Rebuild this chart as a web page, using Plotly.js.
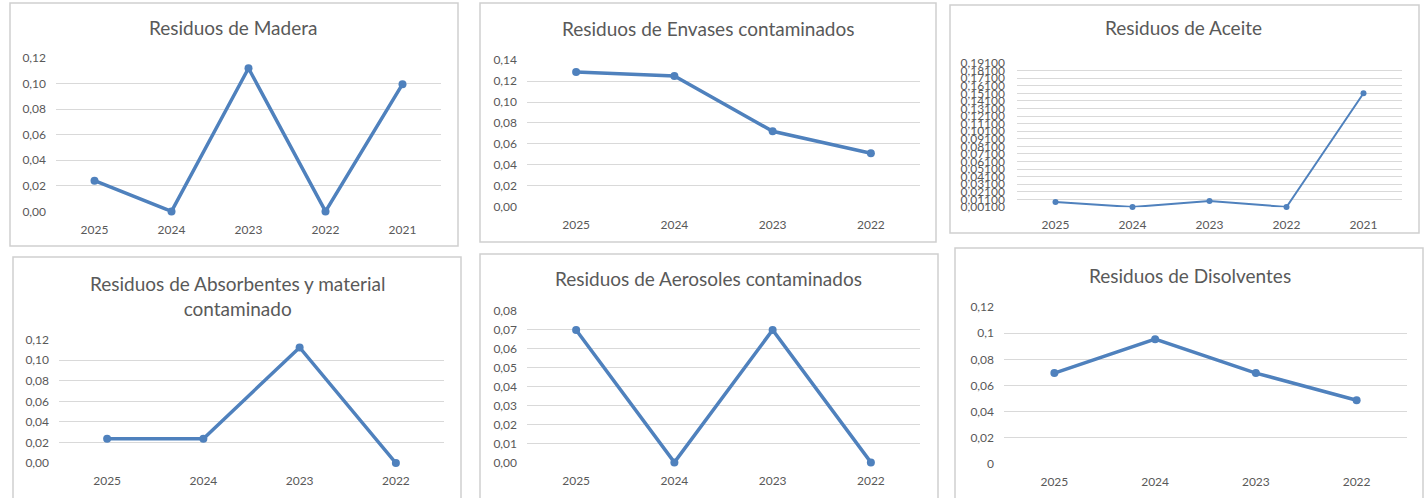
<!DOCTYPE html>
<html>
<head>
<meta charset="utf-8">
<script src="https://cdn.plot.ly/plotly-3.0.1.min.js"></script>
<style>
  html, body { margin: 0; padding: 0; background: #ffffff; }
  #chart { width: 1425px; height: 498px; }
</style>
</head>
<body>
<div id="chart"></div>
<script>
// ---------- DATA ----------
const titleMadera = "Residuos de Madera";
const yearsMadera = ["2025", "2024", "2023", "2022", "2021"];
const valuesMadera = [0.024, 0.0, 0.112, 0.0, 0.0995];
const ticksMadera = [0, 0.02, 0.04, 0.06, 0.08, 0.10, 0.12];
const tickTextMadera = ["0,00", "0,02", "0,04", "0,06", "0,08", "0,10", "0,12"];

const titleEnvases = "Residuos de Envases contaminados";
const yearsEnvases = ["2025", "2024", "2023", "2022"];
const valuesEnvases = [0.1288, 0.125, 0.072, 0.051];
const ticksEnvases = [0, 0.02, 0.04, 0.06, 0.08, 0.10, 0.12, 0.14];
const tickTextEnvases = ["0,00", "0,02", "0,04", "0,06", "0,08", "0,10", "0,12", "0,14"];

const titleAceite = "Residuos de Aceite";
const yearsAceite = ["2025", "2024", "2023", "2022", "2021"];
const valuesAceite = [0.0075, 0.001, 0.009, 0.001, 0.151];
const ticksAceite = [0.001, 0.011, 0.021, 0.031, 0.041, 0.051, 0.061, 0.071, 0.081, 0.091,
                     0.101, 0.111, 0.121, 0.131, 0.141, 0.151, 0.161, 0.171, 0.181, 0.191];
const tickTextAceite = ["0,00100", "0,01100", "0,02100", "0,03100", "0,04100", "0,05100", "0,06100",
                        "0,07100", "0,08100", "0,09100", "0,10100", "0,11100", "0,12100", "0,13100",
                        "0,14100", "0,15100", "0,16100", "0,17100", "0,18100", "0,19100"];

const titleAbsorbentes = "Residuos de Absorbentes y material<br>contaminado";
const yearsAbsorbentes = ["2025", "2024", "2023", "2022"];
const valuesAbsorbentes = [0.0235, 0.0237, 0.1123, 0.0];
const ticksAbsorbentes = [0, 0.02, 0.04, 0.06, 0.08, 0.10, 0.12];
const tickTextAbsorbentes = ["0,00", "0,02", "0,04", "0,06", "0,08", "0,10", "0,12"];

const titleAerosoles = "Residuos de Aerosoles contaminados";
const yearsAerosoles = ["2025", "2024", "2023", "2022"];
const valuesAerosoles = [0.07, 0.0, 0.07, 0.0];
const ticksAerosoles = [0, 0.01, 0.02, 0.03, 0.04, 0.05, 0.06, 0.07, 0.08];
const tickTextAerosoles = ["0,00", "0,01", "0,02", "0,03", "0,04", "0,05", "0,06", "0,07", "0,08"];

const titleDisolventes = "Residuos de Disolventes";
const yearsDisolventes = ["2025", "2024", "2023", "2022"];
const valuesDisolventes = [0.0695, 0.0954, 0.0695, 0.0487];
const ticksDisolventes = [0, 0.02, 0.04, 0.06, 0.08, 0.1, 0.12];
const tickTextDisolventes = ["0", "0,02", "0,04", "0,06", "0,08", "0,1", "0,12"];

// ---------- LAYOUT (pixel geometry) ----------
const W = 1425, H = 498;
const FONT = "Lato, 'Open Sans', sans-serif";
const TEXT = "#595959";
const GRID = "#d9d9d9";
const BLUE = "#4f81bd";

const panels = [
  { title: titleMadera, x: yearsMadera, y: valuesMadera, tv: ticksMadera, tt: tickTextMadera,
    box: [10, 3, 458, 246], plot: [56, 57.7, 441, 211.7], tpos: [233, 27], lw: 3.5, ms: 8, yfs: 12, ystand: 9 },
  { title: titleEnvases, x: yearsEnvases, y: valuesEnvases, tv: ticksEnvases, tt: tickTextEnvases,
    box: [480, 3, 936, 242], plot: [527, 60, 920, 206.7], tpos: [708, 28], lw: 3.5, ms: 8, yfs: 12, ystand: 9 },
  { title: titleAceite, x: yearsAceite, y: valuesAceite, tv: ticksAceite, tt: tickTextAceite,
    box: [950, 5, 1419, 233], plot: [1017, 62.7, 1402, 207.3], tpos: [1183, 27], lw: 2, ms: 6, yfs: 12, ystand: 11 },
  { title: titleAbsorbentes, x: yearsAbsorbentes, y: valuesAbsorbentes, tv: ticksAbsorbentes, tt: tickTextAbsorbentes,
    box: [13, 257, 461, 520], plot: [59, 339.3, 444, 463.3], tpos: [237, 295.5], lw: 3.5, ms: 8, yfs: 12, ystand: 9 },
  { title: titleAerosoles, x: yearsAerosoles, y: valuesAerosoles, tv: ticksAerosoles, tt: tickTextAerosoles,
    box: [480, 254, 938, 520], plot: [527, 310.7, 920, 462.7], tpos: [708, 278], lw: 3.5, ms: 8, yfs: 12, ystand: 9 },
  { title: titleDisolventes, x: yearsDisolventes, y: valuesDisolventes, tv: ticksDisolventes, tt: tickTextDisolventes,
    box: [955, 248, 1423, 520], plot: [1004, 306.7, 1407, 464.3], tpos: [1190, 275], lw: 3.5, ms: 8, yfs: 12, ystand: 9 }
];

const px = v => v / W;
const py = v => 1 - v / H;

const data = [];
const layout = {
  width: W, height: H,
  margin: { l: 0, r: 0, t: 0, b: 0 },
  paper_bgcolor: "#ffffff",
  plot_bgcolor: "rgba(0,0,0,0)",
  showlegend: false,
  font: { family: FONT, color: TEXT },
  shapes: [],
  annotations: []
};

panels.forEach((p, i) => {
  const n = i + 1;
  const xa = "xaxis" + (n === 1 ? "" : n);
  const ya = "yaxis" + (n === 1 ? "" : n);
  const xr = "x" + (n === 1 ? "" : n);
  const yr = "y" + (n === 1 ? "" : n);
  const lo = p.tv[0], hi = p.tv[p.tv.length - 1];
  const eps = (hi - lo) * 0.002;

  data.push({
    type: "scatter", mode: "lines+markers",
    x: p.x, y: p.y, xaxis: xr, yaxis: yr,
    line: { color: BLUE, width: p.lw },
    marker: { color: BLUE, size: p.ms, symbol: "circle" },
    cliponaxis: false, hoverinfo: "skip"
  });

  layout[xa] = {
    domain: [px(p.plot[0]), px(p.plot[2])],
    anchor: yr,
    type: "category",
    range: [-0.5, p.x.length - 0.5],
    showgrid: false, zeroline: false, showline: false,
    ticks: "", ticklabelstandoff: 9,
    tickfont: { family: FONT, size: 12, color: TEXT },
    fixedrange: true
  };
  layout[ya] = {
    domain: [py(p.plot[3]), py(p.plot[1])],
    anchor: xr,
    range: [lo - eps, hi + eps],
    tickmode: "array", tickvals: p.tv, ticktext: p.tt,
    showgrid: true, gridcolor: GRID, gridwidth: 1,
    zeroline: false, showline: false,
    ticks: "", ticklabelstandoff: p.ystand,
    tickfont: { family: FONT, size: p.yfs, color: TEXT },
    fixedrange: true
  };

  layout.shapes.push({
    type: "rect", xref: "paper", yref: "paper",
    x0: px(p.box[0]), x1: px(p.box[2]), y0: py(p.box[3]), y1: py(p.box[1]),
    line: { color: "#d0d0d0", width: 1.5 }, fillcolor: "rgba(0,0,0,0)", layer: "below"
  });

  layout.annotations.push({
    xref: "paper", yref: "paper",
    x: px(p.tpos[0]), y: py(p.tpos[1]),
    xanchor: "center", yanchor: "middle",
    text: p.title, showarrow: false,
    font: { family: FONT, size: 19, color: TEXT }
  });
});

Plotly.newPlot("chart", data, layout, { staticPlot: true, displayModeBar: false });
</script>
</body>
</html>
